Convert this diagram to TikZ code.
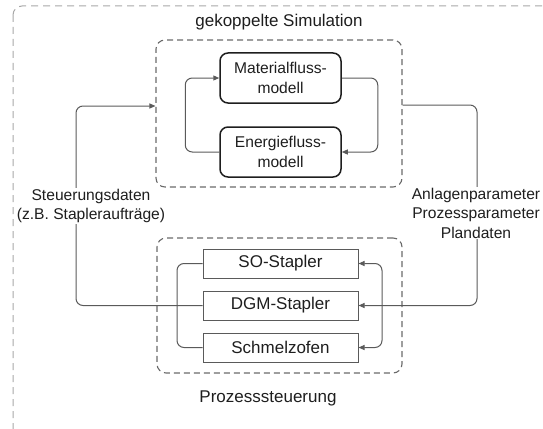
\documentclass[tikz,border=0pt]{standalone}
\usepackage{fontspec}
\setmainfont{Liberation Sans}
\usetikzlibrary{arrows.meta}
\definecolor{linegray}{HTML}{5A5A5A}
\definecolor{dashgray}{HTML}{6A6A6A}
\definecolor{outergray}{HTML}{A8A8A8}
\definecolor{boxblack}{HTML}{1E1E1E}
\tikzset{
  txt/.style={font=\fontsize{15.6}{19.5}\selectfont, text=boxblack},
  bigtxt/.style={font=\fontsize{17}{20}\selectfont, text=boxblack},
  modelbox/.style={txt, draw=boxblack, line width=1.5pt, rounded corners=8pt,
    minimum width=121pt, minimum height=50pt, align=center, inner sep=0pt},
  unitbox/.style={bigtxt, draw=linegray, line width=1pt,
    minimum width=155pt, minimum height=29pt, inner sep=0pt},
  groupbox/.style={draw=dashgray, line width=1.1pt, dash pattern=on 6pt off 4pt,
    rounded corners=9pt, inner sep=0pt},
  conn/.style={draw=linegray, line width=1pt, rounded corners=7pt},
  tip/.style={-{Triangle[length=6pt,width=5pt]}},
  bitip/.style={{Triangle[length=6pt,width=5pt]}-{Triangle[length=6pt,width=5pt]}},
  lbl/.style={txt, align=center, fill=white, inner sep=1pt}
}
\begin{document}
\begin{tikzpicture}[x=1pt,y=-1pt]
\useasboundingbox (0,0) rectangle (543,428);
\begin{scope}
\clip (0,0) rectangle (543,428);
\draw[draw=outergray, line width=1pt, dash pattern=on 7pt off 5pt, rounded corners=9pt]
  (13,6) rectangle (570,450);
\end{scope}

% groups
\node[groupbox, minimum width=246pt, minimum height=147pt] (sim) at (279,113.5) {};
\node[bigtxt] (simt) at (279,22) {gekoppelte Simulation};
\node[groupbox, minimum width=245pt, minimum height=135pt] (ps) at (279.5,305.5) {};
\node[bigtxt] (pst) at (268,398) {Prozesssteuerung};

% models
\node[modelbox] (mat) at (280.5,78) {Materialfluss-\\modell};
\node[modelbox] (ene) at (280.5,152) {Energiefluss-\\modell};

% units
\node[unitbox] (so) at (280.5,263.5) {SO-Stapler};
\node[unitbox] (dgm) at (280.5,305.5) {DGM-Stapler};
\node[unitbox] (sch) at (280.5,347.5) {Schmelzofen};

% coordinates
\coordinate (lx) at (76,305.5);
\coordinate (rx) at (477,305.5);
\coordinate (lb) at (177,305.5);
\coordinate (rb) at (382,305.5);

% model loop
\draw[conn,tip] (ene.west) -- ++(-34,0) |- (mat.west);
\draw[conn,tip] (mat.east) -- ++(36,0) |- (ene.east);

% unit brackets
\draw[conn] (so.west) -| (lb) |- (sch.west);
\draw[conn,bitip] (so.east) -| (rb) |- (sch.east);

% outer connectors
\draw[conn,tip] (dgm.west) -- (lx) |- (sim.west |- 0,106);
\draw[conn,tip] (sim.east |- 0,105) -| (rx) -- (dgm.east);

% labels
\node[lbl] (ll) at (91,206) {Steuerungsdaten\\(z.B. Stapleraufträge)};
\node[lbl] (rl) at (476,213) {Anlagenparameter\\Prozessparameter\\Plandaten};
\end{tikzpicture}
\end{document}
